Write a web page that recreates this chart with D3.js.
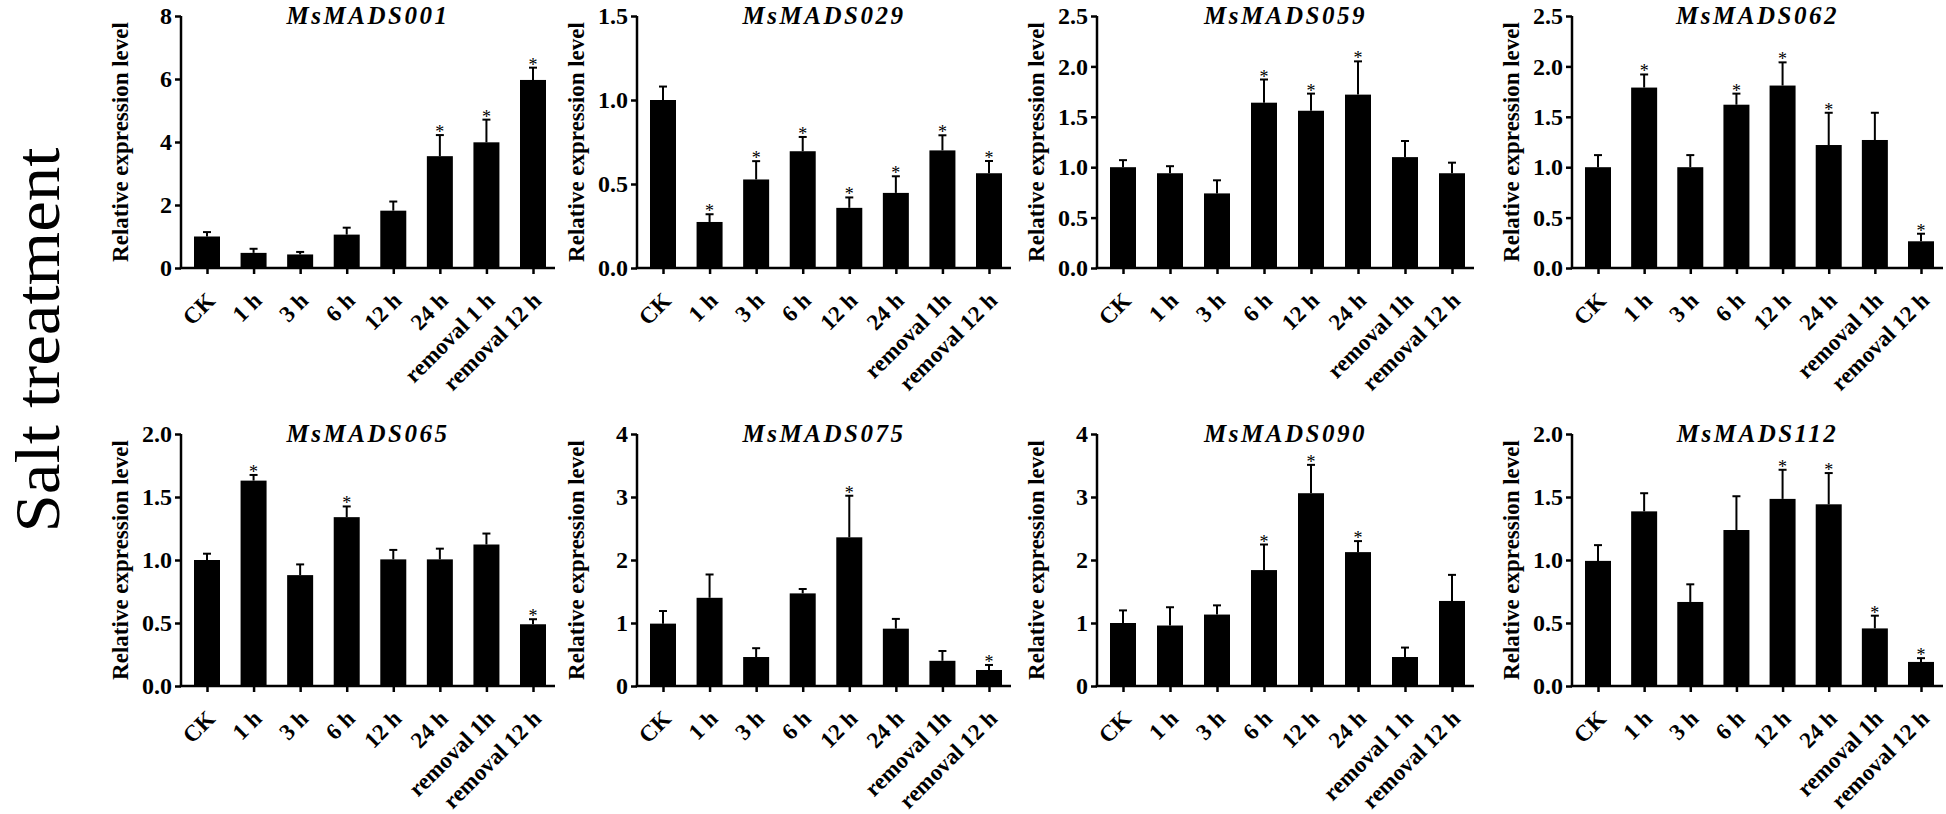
<!DOCTYPE html>
<html><head><meta charset="utf-8">
<script src="https://cdn.jsdelivr.net/npm/d3@7"></script>
<style>
body{margin:0;background:#fff;}
text{font-family:"Liberation Serif","Times New Roman",serif;}
</style></head>
<body><svg id="c" width="1946" height="814"></svg>
<script>
// ---------- data ----------
const genes = ["MsMADS001","MsMADS029","MsMADS059","MsMADS062","MsMADS065","MsMADS075","MsMADS090","MsMADS112"];
const catsA = ["CK","1 h","3 h","6 h","12 h","24 h","removal 1 h","removal 12 h"];
const catsB = ["CK","1 h","3 h","6 h","12 h","24 h","removal 1h","removal 12 h"];
const labelSets = [catsA, catsB, catsB, catsB, catsB, catsB, catsA, catsB];

const v001 = [1.00, 0.48, 0.43, 1.06, 1.82, 3.55, 3.99, 5.97];
const v029 = [1.00, 0.274, 0.527, 0.695, 0.358, 0.447, 0.70, 0.564];
const v059 = [1.00, 0.94, 0.74, 1.64, 1.56, 1.72, 1.10, 0.94];
const v062 = [1.00, 1.79, 1.00, 1.62, 1.81, 1.22, 1.27, 0.265];
const v065 = [1.00, 1.63, 0.88, 1.34, 1.005, 1.005, 1.123, 0.49];
const v075 = [0.99, 1.40, 0.46, 1.47, 2.36, 0.91, 0.40, 0.254];
const v090 = [1.00, 0.96, 1.134, 1.84, 3.06, 2.125, 0.46, 1.35];
const v112 = [0.993, 1.386, 0.667, 1.238, 1.485, 1.442, 0.457, 0.191];

const e001 = [0.14, 0.13, 0.08, 0.22, 0.29, 0.67, 0.72, 0.39];
const e029 = [0.08, 0.046, 0.109, 0.085, 0.062, 0.099, 0.09, 0.073];
const e059 = [0.07, 0.07, 0.13, 0.23, 0.17, 0.33, 0.16, 0.105];
const e062 = [0.12, 0.13, 0.12, 0.11, 0.23, 0.32, 0.27, 0.075];
const e065 = [0.05, 0.045, 0.085, 0.085, 0.075, 0.085, 0.087, 0.04];
const e075 = [0.20, 0.37, 0.14, 0.07, 0.66, 0.155, 0.156, 0.08];
const e090 = [0.20, 0.29, 0.146, 0.406, 0.45, 0.175, 0.15, 0.414];
const e112 = [0.125, 0.144, 0.14, 0.268, 0.231, 0.248, 0.101, 0.03];

const s001 = [0,0,0,0,0,1,1,1];
const s029 = [0,1,1,1,1,1,1,1];
const s059 = [0,0,0,1,1,1,0,0];
const s062 = [0,1,0,1,1,1,0,1];
const s065 = [0,1,0,1,0,0,0,1];
const s075 = [0,0,0,0,1,0,0,1];
const s090 = [0,0,0,1,1,1,0,0];
const s112 = [0,0,0,0,1,1,1,1];

const ticks001 = [0,2,4,6,8];
const ticks029 = [0,0.5,1.0,1.5];
const ticks059 = [0,0.5,1.0,1.5,2.0,2.5];
const ticks062 = [0,0.5,1.0,1.5,2.0,2.5];
const ticks065 = [0,0.5,1.0,1.5,2.0];
const ticks075 = [0,1,2,3,4];
const ticks090 = [0,1,2,3,4];
const ticks112 = [0,0.5,1.0,1.5,2.0];

const values = [v001,v029,v059,v062,v065,v075,v090,v112];
const errors = [e001,e029,e059,e062,e065,e075,e090,e112];
const stars  = [s001,s029,s059,s062,s065,s075,s090,s112];
const tickSets = [ticks001,ticks029,ticks059,ticks062,ticks065,ticks075,ticks090,ticks112];
const tickFormats = ["d",".1f",".1f",".1f",".1f","d","d",".1f"];

const yLabel = "Relative expression level";
const sideLabel = "Salt treatment";

// ---------- layout ----------
const colX0 = [181, 637, 1097, 1572];
const colX1 = [555, 1011, 1474, 1943];
const rowTop = [16, 434];
const rowBottom = [268, 686];
const barW = 26;

const svg = d3.select("#c");

// side label
svg.append("text")
  .attr("transform", "translate(59,340) rotate(-90)")
  .attr("text-anchor", "middle")
  .attr("textLength", 385).attr("lengthAdjust", "spacingAndGlyphs")
  .style("font-size", "64px")
  .text(sideLabel);

genes.forEach((gene, i) => {
  const col = i % 4, row = Math.floor(i / 4);
  const x0 = colX0[col], x1 = colX1[col];
  const top = rowTop[row], bot = rowBottom[row];
  const cats = labelSets[i];
  const ticks = tickSets[i];
  const yMax = ticks[ticks.length - 1];

  const x = d3.scalePoint().domain(d3.range(cats.length)).range([x0 + 26, x1 - 22]);
  const y = d3.scaleLinear().domain([0, yMax]).range([bot, top]);

  const g = svg.append("g");

  const data = values[i].map((v, k) => ({k, v, e: errors[i][k], s: stars[i][k]}));

  // bars
  g.selectAll("rect.bar").data(data).enter().append("rect")
    .attr("x", d => x(d.k) - barW / 2)
    .attr("y", d => y(d.v))
    .attr("width", barW)
    .attr("height", d => y(0) - y(d.v))
    .attr("fill", "#000");

  // error bars (upper only)
  g.selectAll("line.err").data(data).enter().append("line")
    .attr("x1", d => x(d.k)).attr("x2", d => x(d.k))
    .attr("y1", d => y(d.v)).attr("y2", d => y(d.v + d.e))
    .attr("stroke", "#000").attr("stroke-width", 2);
  g.selectAll("line.cap").data(data).enter().append("line")
    .attr("x1", d => x(d.k) - 4).attr("x2", d => x(d.k) + 4)
    .attr("y1", d => y(d.v + d.e)).attr("y2", d => y(d.v + d.e))
    .attr("stroke", "#000").attr("stroke-width", 2);

  // significance stars
  g.selectAll("text.star").data(data.filter(d => d.s)).enter().append("text")
    .attr("x", d => x(d.k)).attr("y", d => y(d.v + d.e) + 3)
    .attr("text-anchor", "middle")
    .style("font-size", "18px")
    .text("*");

  // y axis
  const yAxis = d3.axisLeft(y).tickValues(ticks).tickSize(6).tickPadding(3)
    .tickFormat(d3.format(tickFormats[i]));
  const ya = g.append("g").attr("transform", `translate(${x0},0)`).call(yAxis);
  ya.select(".domain").attr("stroke-width", 2.5).attr("d", `M0,${bot}V${top}`);
  ya.selectAll(".tick line").attr("stroke-width", 2.5);
  ya.selectAll(".tick text").style("font-family", "'Liberation Serif','Times New Roman',serif")
    .style("font-size", "24px").style("font-weight", "bold").attr("fill", "#000");

  // x axis
  const xAxis = d3.axisBottom(x).tickSize(6).tickFormat(k => cats[k]);
  const xa = g.append("g").attr("transform", `translate(0,${bot})`).call(xAxis);
  xa.select(".domain").remove();
  xa.append("line").attr("x1", x0 - 1.25).attr("x2", x1).attr("y1", 0).attr("y2", 0)
    .attr("stroke", "#000").attr("stroke-width", 2.5);
  xa.selectAll(".tick line").attr("stroke-width", 2.5);
  xa.selectAll(".tick text")
    .style("font-family", "'Liberation Serif','Times New Roman',serif")
    .style("font-size", "23px").style("font-weight", "bold").attr("fill", "#000")
    .attr("text-anchor", "end")
    .attr("x", null).attr("y", null).attr("dy", null)
    .attr("transform", "translate(9,34) rotate(-45)");

  // y label
  g.append("text")
    .attr("transform", `translate(${x0 - 53},${(top + bot) / 2}) rotate(-90)`)
    .attr("text-anchor", "middle")
    .style("font-size", "23px").style("font-weight", "bold")
    .text(yLabel);

  // title
  g.append("text")
    .attr("x", (x0 + x1) / 2).attr("y", top + 8)
    .attr("text-anchor", "middle")
    .style("font-size", "25px").style("font-weight", "bold").style("font-style", "italic")
    .style("letter-spacing", "2.5px")
    .text(gene);
});
</script></body></html>
